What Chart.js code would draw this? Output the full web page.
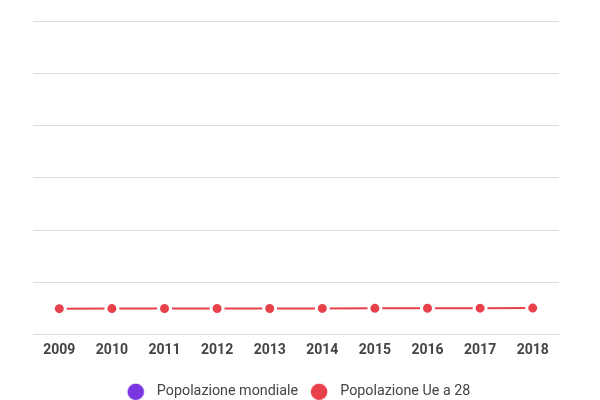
<!DOCTYPE html>
<html>
<head>
<meta charset="utf-8">
<script src="https://cdn.jsdelivr.net/npm/chart.js@4"></script>
<style>
  html, body { margin: 0; padding: 0; background: #fff; }
  #wrap { width: 600px; height: 400px; }
</style>
</head>
<body>
<div id="wrap"><canvas id="chart"></canvas></div>
<script>
// anni e popolazione (valori assoluti)
const years = ['2009', '2010', '2011', '2012', '2013', '2014', '2015', '2016', '2017', '2018'];
const worldPop = [6850000000, 6930000000, 7010000000, 7090000000, 7170000000, 7250000000, 7340000000, 7430000000, 7510000000, 7590000000];
const euPop = [502100000, 503200000, 504100000, 504600000, 505200000, 507000000, 508300000, 510300000, 511500000, 512400000];
const yTicks = [0, 1000000000, 2000000000, 3000000000, 4000000000, 5000000000, 6000000000];

const purple = '#7a36e1';
const red = '#e8414b';

const series = (label, data, color) => ({
    label: label,
    data: data,
    borderColor: color,
    backgroundColor: color,
    borderWidth: 2,
    pointRadius: 6,
    pointHoverRadius: 6,
    pointBackgroundColor: color,
    pointBorderColor: '#ffffff',
    pointBorderWidth: 3,
    tension: 0,
    fill: false
});

// pallino pieno per la legenda
const dot = (color) => {
    const c = document.createElement('canvas');
    c.width = 18;
    c.height = 18;
    const g = c.getContext('2d');
    g.fillStyle = color;
    g.beginPath();
    g.arc(9, 9, 8.3, 0, Math.PI * 2);
    g.fill();
    return c;
};

new Chart(document.getElementById('chart'), {
    type: 'line',
    data: {
        labels: years,
        datasets: [
            series('Popolazione mondiale', worldPop, purple),
            series('Popolazione Ue a 28', euPop, red)
        ]
    },
    options: {
        responsive: true,
        maintainAspectRatio: false,
        animation: false,
        layout: { padding: { left: 33, right: 41, top: 21, bottom: -9 } },
        plugins: {
            tooltip: { enabled: false },
            legend: {
                position: 'bottom',
                labels: {
                    usePointStyle: true,
                    pointStyleWidth: 28,
                    boxHeight: 14,
                    color: '#444',
                    padding: 7,
                    font: { family: 'Roboto', size: 14.3 },
                    generateLabels: chart => Chart.defaults.plugins.legend.labels.generateLabels(chart)
                        .map(item => ({ ...item, pointStyle: dot(chart.data.datasets[item.datasetIndex].borderColor) }))
                }
            }
        },
        scales: {
            x: {
                offset: true,
                grid: { display: false, drawTicks: false },
                border: { display: true, color: '#dddddd' },
                ticks: {
                    color: '#444',
                    padding: 7,
                    font: { family: 'Roboto', size: 14, weight: 'bold' }
                },
                afterFit: axis => { axis.height += 12; }
            },
            y: {
                min: yTicks[0],
                max: yTicks[yTicks.length - 1],
                afterBuildTicks: axis => { axis.ticks = yTicks.map(v => ({ value: v })); },
                grid: { color: '#dddddd', drawTicks: false },
                border: { display: false },
                ticks: { display: false }
            }
        }
    }
});
</script>
</body>
</html>
